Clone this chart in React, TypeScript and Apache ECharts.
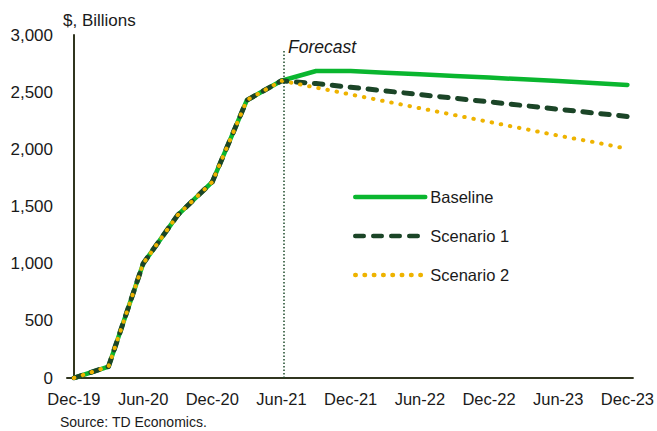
import React, { useEffect, useRef } from "react";
import * as echarts from "echarts";

const quarters = [
  "Dec-19", "Mar-20", "Jun-20", "Sep-20", "Dec-20", "Mar-21", "Jun-21",
  "Sep-21", "Dec-21", "Mar-22", "Jun-22", "Sep-22", "Dec-22", "Mar-23",
  "Jun-23", "Sep-23", "Dec-23",
];
const history = [0, 100, 1000, 1425, 1715, 2430, 2600];
const baselineForecast = [2685, 2685, 2670, 2657, 2642, 2628, 2612, 2598, 2580, 2563];
const scenario1Forecast = [2575, 2543, 2511, 2479, 2447, 2415, 2383, 2351, 2319, 2287];
const scenario2Forecast = [2540, 2480, 2420, 2360, 2300, 2240, 2180, 2120, 2065, 2005];
const labelTicks = [0, 2, 4, 6, 8, 10, 12, 14, 16];
const forecastStart = 6.07;
const forecastTop = 2870;

const FONT = "'Liberation Sans', Arial, sans-serif";
const TEXT = "#1a1a1a";
const AXIS = "#30351f";

const toPairs = (vals: number[]) => vals.map((v, i) => [i, v]);

export default function App() {
  const ref = useRef<HTMLDivElement>(null);
  useEffect(() => {
    if (!ref.current) return;
    const chart = echarts.init(ref.current, undefined, { renderer: "svg" });
    const base = toPairs([...history, ...baselineForecast]);
    const s1 = toPairs([...history, ...scenario1Forecast]);
    const s2 = toPairs([...history, ...scenario2Forecast]);
    chart.setOption({
      animation: false,
      textStyle: { fontFamily: FONT },
      grid: { left: 67, right: 24, top: 35, bottom: 53, containLabel: false },
      xAxis: {
        type: "value",
        min: -0.2,
        max: 16.16,
        axisLine: { show: true, lineStyle: { color: AXIS, width: 2 } },
        axisTick: { show: false },
        splitLine: { show: false },
        axisLabel: {
          customValues: labelTicks,
          formatter: (v: number) => quarters[Math.round(v)] ?? "",
          color: TEXT,
          fontSize: 16.5,
          fontFamily: FONT,
          margin: 12,
        },
      },
      yAxis: {
        type: "value",
        min: 0,
        max: 3000,
        interval: 500,
        axisLine: { show: true, lineStyle: { color: AXIS, width: 2 } },
        axisTick: { show: false },
        splitLine: { show: false },
        axisLabel: {
          color: TEXT,
          fontSize: 17,
          fontFamily: FONT,
          margin: 14,
          formatter: (v: number) => v.toLocaleString("en-US"),
        },
      },
      legend: {
        show: true,
        orient: "vertical",
        left: 353,
        top: 187,
        padding: 0,
        itemWidth: 70,
        itemHeight: 20,
        itemGap: 19,
        itemStyle: { opacity: 0 },
        lineStyle: { width: 4.5 },
        textStyle: { color: TEXT, fontSize: 16.5, fontFamily: FONT, lineHeight: 20 },
        data: ["Baseline", "Scenario 1", "Scenario 2"],
      },
      series: [
        {
          name: "Baseline",
          type: "line",
          data: base,
          symbol: "none",
          lineStyle: { color: "#0ab62f", width: 4.5, cap: "round", join: "round" },
          itemStyle: { color: "#0ab62f" },
          markLine: {
            silent: true,
            symbol: "none",
            label: { show: false },
            lineStyle: { color: "#1d4a2a", width: 1.5, type: [1.5, 2] },
            data: [[{ coord: [forecastStart, 0] }, { coord: [forecastStart, forecastTop] }]],
          },
        },
        {
          name: "Scenario 1",
          type: "line",
          data: s1,
          symbol: "none",
          lineStyle: { color: "#1b4527", width: 5, type: [8.5, 9.5], cap: "round", join: "round" },
          itemStyle: { color: "#1b4527" },
        },
        {
          name: "Scenario 2",
          type: "line",
          data: s2,
          symbol: "none",
          lineStyle: { color: "#eeb300", width: 4, type: [0.5, 8.8], cap: "round", join: "round" },
          itemStyle: { color: "#eeb300" },
        },
      ],
      graphic: [
        {
          type: "text",
          left: 63,
          top: 12,
          style: { text: "$, Billions", fill: TEXT, font: `17px ${FONT}` },
        },
        {
          type: "text",
          left: 288,
          top: 38,
          style: { text: "Forecast", fill: TEXT, font: `italic 17.5px ${FONT}` },
        },
        {
          type: "text",
          left: 60,
          top: 415,
          style: { text: "Source: TD Economics.", fill: TEXT, font: `14px ${FONT}` },
        },
      ],
    });
    return () => chart.dispose();
  }, []);
  return (
    <div
      ref={ref}
      style={{ position: "fixed", left: 0, top: 0, width: 657, height: 431, background: "#fff" }}
    />
  );
}
